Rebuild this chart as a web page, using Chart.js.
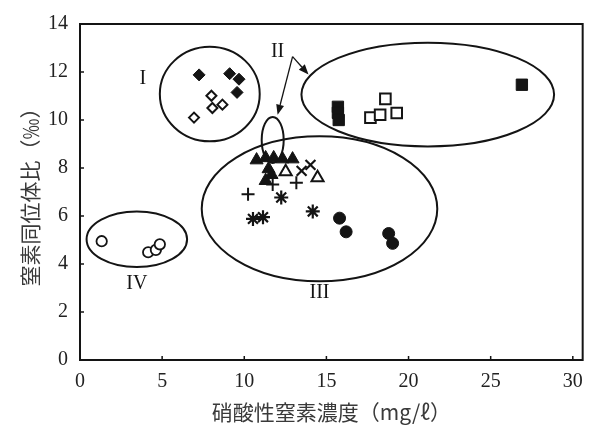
<!DOCTYPE html>
<html>
<head>
<meta charset="utf-8">
<script src="https://cdn.jsdelivr.net/npm/chart.js@4.4.1/dist/chart.umd.min.js"></script>
<style>
  html, body { margin: 0; padding: 0; background: #ffffff; }
  #wrap { width: 593px; height: 433px; position: relative; }
</style>
</head>
<body>
<div id="wrap"><canvas id="c" width="593" height="433"></canvas></div>
<script>
// Nitrate concentration (mg/ℓ) vs. nitrogen isotope ratio (‰)
const xTicks = [0, 5, 10, 15, 20, 25, 30];
const yTicks = [0, 2, 4, 6, 8, 10, 12, 14];

const diamondsFilled = [[7.25, 11.88], [9.11, 11.93], [9.68, 11.70], [9.56, 11.15]];
const diamondsOpen   = [[8.00, 11.01], [8.67, 10.64], [8.06, 10.50], [6.94, 10.10]];
const squaresFilled  = [[15.70, 10.55], [15.70, 10.30], [15.75, 10.00], [26.90, 11.47]];
const squaresOpen    = [[18.59, 10.88], [17.68, 10.10], [18.27, 10.22], [19.28, 10.29]];
const trianglesFilled = [[10.75, 8.33], [11.30, 8.42], [11.79, 8.42], [12.33, 8.37], [12.94, 8.37],
                         [11.48, 7.96], [11.66, 7.72], [11.30, 7.47]];
const trianglesOpen  = [[12.52, 7.84], [14.46, 7.59]];
const crosses        = [[13.49, 7.88], [14.03, 8.13]];
const pluses         = [[10.23, 6.91], [13.17, 7.39], [11.73, 7.31]];
const stars          = [[12.25, 6.77], [10.53, 5.88], [11.14, 5.95], [14.17, 6.19]];
const circlesFilled  = [[15.80, 5.91], [16.20, 5.34], [18.79, 5.27], [19.03, 4.86]];
const circlesOpen    = [[1.32, 4.95], [4.15, 4.49], [4.62, 4.59], [4.86, 4.82]];

// Group outlines: [centerX, centerY, radiusX, radiusY] in axis units
const groupEllipses = [
  [7.90, 11.08, 3.04, 1.97],   // I
  [21.17, 11.06, 7.69, 2.16],  // II (large)
  [11.73, 9.17, 0.67, 0.96],   // II (small)
  [14.58, 6.30, 7.17, 3.02],   // III
  [3.46, 5.03, 3.06, 1.16]     // IV
];
const groupLabels = [['I', 3.83, 11.70], ['II', 12.03, 12.85], ['III', 14.58, 2.82], ['IV', 3.46, 3.16]];
// Arrows from the "II" label: [fromX, fromY, toX, toY]
const groupArrows = [[12.94, 12.64, 12.03, 10.22], [12.94, 12.64, 13.91, 11.90]];

const INK = '#141414';
const toPts = arr => arr.map(p => ({ x: p[0], y: p[1] }));

function series(data, style, radius, filled, bw) {
  return {
    data: toPts(data),
    pointStyle: style,
    pointRadius: radius,
    pointHoverRadius: radius,
    pointBackgroundColor: filled ? INK : '#ffffff',
    pointBorderColor: INK,
    pointBorderWidth: bw,
    showLine: false
  };
}

const datasets = [
  series(diamondsFilled, 'rectRot', 6, true, 1),
  series(diamondsOpen, 'rectRot', 5, false, 2),
  series(squaresFilled, 'rect', 8, true, 1),
  series(squaresOpen, 'rect', 7.5, false, 2),
  series(trianglesFilled, 'triangle', 7.5, true, 1),
  series(trianglesOpen, 'triangle', 7, false, 2),
  series(crosses, 'crossRot', 7, false, 2.2),
  series(pluses, 'cross', 6.5, false, 2),
  series(stars, 'star', 7, false, 2.2),
  series(circlesFilled, 'circle', 6, true, 1),
  series(circlesOpen, 'circle', 5.2, false, 1.8)
];

const CHART_LEFT = 80, CHART_TOP = 19, CHART_RIGHT = 585, CHART_BOTTOM = 360;
const TITLE_FONT = { family: '"Noto Sans CJK JP", sans-serif', size: 21 };
const TICK_FONT = { family: '"Liberation Serif", "DejaVu Serif", serif', size: 20 };

const decorations = {
  id: 'decorations',
  beforeDatasetsDraw(chart) {
    const { ctx, chartArea: a, scales: { x, y } } = chart;
    ctx.save();
    ctx.strokeStyle = INK;
    ctx.lineWidth = 2;
    // frame
    ctx.strokeRect(a.left, a.top, a.right - a.left, a.bottom - a.top);
    // inward tick marks
    ctx.lineWidth = 1.5;
    ctx.beginPath();
    yTicks.forEach(v => { const py = y.getPixelForValue(v); ctx.moveTo(a.left, py); ctx.lineTo(a.left + 4, py); });
    xTicks.forEach(v => { const px = x.getPixelForValue(v); ctx.moveTo(px, a.bottom); ctx.lineTo(px, a.bottom - 4); });
    ctx.stroke();
    // group ellipses
    ctx.lineWidth = 2;
    groupEllipses.forEach(([cx, cy, rx, ry]) => {
      const px = x.getPixelForValue(cx), py = y.getPixelForValue(cy);
      const prx = Math.abs(x.getPixelForValue(cx + rx) - px);
      const pry = Math.abs(y.getPixelForValue(cy + ry) - py);
      ctx.beginPath();
      ctx.ellipse(px, py, prx, pry, 0, 0, Math.PI * 2);
      ctx.stroke();
    });
    // arrows
    ctx.lineWidth = 1.3;
    ctx.fillStyle = INK;
    groupArrows.forEach(([x1, y1, x2, y2]) => {
      const ax = x.getPixelForValue(x1), ay = y.getPixelForValue(y1);
      const bx = x.getPixelForValue(x2), by = y.getPixelForValue(y2);
      const ang = Math.atan2(by - ay, bx - ax);
      const len = 10, half = 4;
      ctx.beginPath();
      ctx.moveTo(ax, ay);
      ctx.lineTo(bx - Math.cos(ang) * len, by - Math.sin(ang) * len);
      ctx.stroke();
      ctx.beginPath();
      ctx.moveTo(bx, by);
      ctx.lineTo(bx - Math.cos(ang) * len - Math.sin(ang) * half, by - Math.sin(ang) * len + Math.cos(ang) * half);
      ctx.lineTo(bx - Math.cos(ang) * len + Math.sin(ang) * half, by - Math.sin(ang) * len - Math.cos(ang) * half);
      ctx.closePath();
      ctx.fill();
    });
    // group labels
    ctx.font = '20px "Liberation Serif", "DejaVu Serif", serif';
    ctx.textAlign = 'center';
    ctx.textBaseline = 'middle';
    groupLabels.forEach(([t, lx, ly]) => {
      ctx.fillText(t, x.getPixelForValue(lx), y.getPixelForValue(ly));
    });
    ctx.restore();
  }
};

new Chart(document.getElementById('c'), {
  type: 'scatter',
  data: { datasets },
  options: {
    responsive: false,
    animation: false,
    events: [],
    layout: { padding: { top: CHART_TOP, right: 593 - CHART_RIGHT, left: 0, bottom: 0 } },
    plugins: { legend: { display: false }, tooltip: { enabled: false } },
    scales: {
      x: {
        type: 'linear',
        min: 0,
        max: 30.6,
        afterBuildTicks: s => { s.ticks = xTicks.map(v => ({ value: v })); },
        afterFit: s => { s.height = 433 - CHART_BOTTOM; },
        grid: { display: false, drawTicks: false },
        border: { display: false },
        ticks: { padding: 10, color: '#222', font: TICK_FONT },
        title: {
          display: true,
          text: '硝酸性窒素濃度（mg/ℓ）',
          color: '#3a3a3a',
          padding: { top: 0, bottom: 8 },
          font: TITLE_FONT
        }
      },
      y: {
        type: 'linear',
        min: 0,
        max: 14,
        afterBuildTicks: s => { s.ticks = yTicks.map(v => ({ value: v })); },
        afterFit: s => { s.width = CHART_LEFT; },
        grid: { display: false, drawTicks: false },
        border: { display: false },
        ticks: { padding: 12, color: '#222', font: TICK_FONT },
        title: {
          display: true,
          text: '窒素同位体比（‰）',
          color: '#3a3a3a',
          padding: { top: 17, bottom: 0 },
          font: TITLE_FONT
        }
      }
    }
  },
  plugins: [decorations]
});
</script>
</body>
</html>
